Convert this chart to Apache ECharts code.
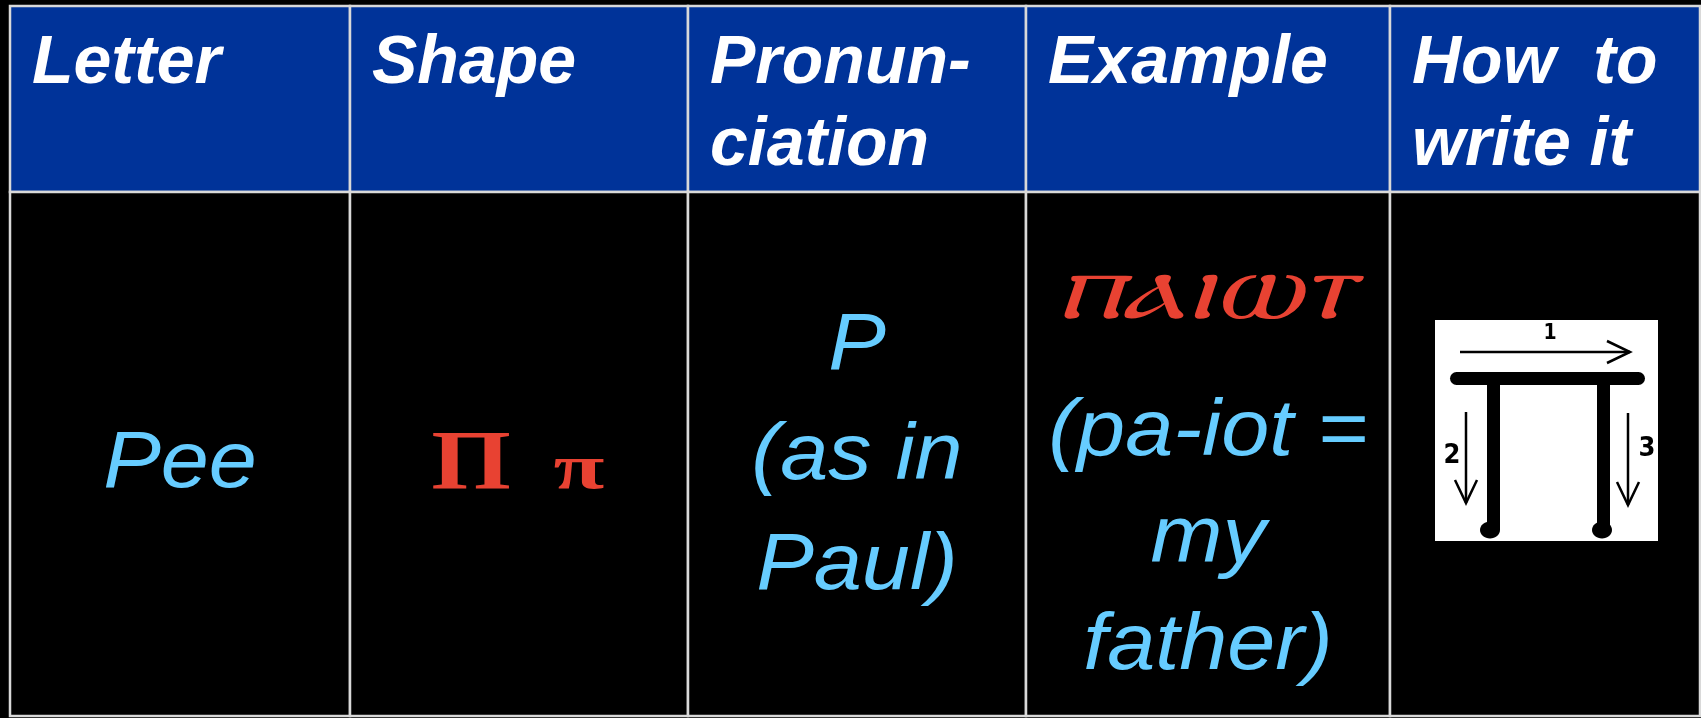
<!DOCTYPE html>
<html><head><meta charset="utf-8">
<script src="https://cdn.jsdelivr.net/npm/echarts@6/dist/echarts.min.js"></script>
<style>html,body{margin:0;padding:0;background:#000;}#c{width:1701px;height:718px;}</style>
</head><body><div id="c"></div>
<script>
// ---- table content ----
const headers = ['Letter', 'Shape', 'Pronun-\nciation', 'Example', 'How  to\nwrite it'];
const letterName = ['Pee'];
const shapeGlyphs = ['Π', 'π'];
const pronunciation = ['P', '(as in', 'Paul)'];
const exampleWord = ['ⲡⲁⲓⲱⲧ'];
const exampleGloss = ['(pa-iot =', 'my', 'father)'];
const strokeLabels = ['1', '2', '3'];

// ---- layout (table units) ----
const colEdges = [0, 340, 678, 1016, 1380, 1690];
const rowEdges = [0, 186, 710];

const cells = [];
for (let r = 0; r < 2; r++) for (let c = 0; c < 5; c++)
  cells.push([colEdges[c], colEdges[c + 1], rowEdges[r], rowEdges[r + 1], c, r]);

const BLUE = '#003399', CYAN = '#66ccff', RED = '#e84232', LINE = '#d9d9d9';
const HFONT = 'italic bold 68px "Liberation Sans", Arial, sans-serif';
const BFONT = 'italic 80px "Liberation Sans", Arial, sans-serif';

function txt(text, x, y, font, fill, align, sx, sy) {
  return { type: 'text', x: x, y: y, scaleX: sx || 1, scaleY: sy || 1,
    style: { text: text, font: font, fill: fill, align: align || 'center', verticalAlign: 'middle' } };
}

function renderItem(params, api) {
  const c = api.value(4), r = api.value(5);
  const p0 = api.coord([api.value(0), api.value(2)]);
  const p1 = api.coord([api.value(1), api.value(3)]);
  const x = p0[0], y = p0[1], w = p1[0] - p0[0], h = p1[1] - p0[1];
  const ch = [{ type: 'rect', shape: { x: x, y: y, width: w, height: h },
    style: { fill: r === 0 ? BLUE : '#000', stroke: LINE, lineWidth: 2.5 } }];
  if (r === 0) {
    const lines = headers[c].split('\n');
    lines.forEach((t, i) => ch.push(txt(t, x + 22, y + 58 + i * 82, HFONT, '#fff', 'left')));
  } else {
    const cx = x + w / 2;
    const dy = y - 192;
    if (c === 0) {
      ch.push(txt(letterName[0], cx, 465 + dy, BFONT, CYAN, 'center', 1.08));
    } else if (c === 1) {
      ch.push(txt(shapeGlyphs[0], cx - 48, 467 + dy, 'bold 84px "Liberation Serif", serif', RED, 'center', 1.22));
      ch.push(txt(shapeGlyphs[1], cx + 60, 471 + dy, 'bold 64px "Liberation Serif", serif', RED, 'center', 1.45));
    } else if (c === 2) {
      pronunciation.forEach((t, i) => ch.push(txt(t, cx, 347 + i * 110 + dy, BFONT, CYAN, 'center', 1.08)));
    } else if (c === 3) {
      ch.push(txt(exampleWord[0], cx - 4, 294 + dy, 'italic 94px "DejaVu Serif", "DejaVu Sans", serif', RED, 'center', 1.35));
      exampleGloss.forEach((t, i) => ch.push(txt(t, cx, 433 + i * 107 + dy, BFONT, CYAN, 'center', 1.08)));
    } else if (c === 4) {
      const bx = x + 45, by = y + 128;
      const S = { stroke: '#000', lineWidth: 2.5, fill: null };
      const LF = 'bold 21px "Liberation Sans Narrow", "DejaVu Sans Condensed", sans-serif';
      const LF2 = 'bold 27px "Liberation Sans Narrow", "DejaVu Sans Condensed", sans-serif';
      ch.push({ type: 'rect', shape: { x: bx, y: by, width: 223, height: 221 }, style: { fill: '#fff' } });
      // stroke 1 arrow
      ch.push({ type: 'line', shape: { x1: bx + 25, y1: by + 32, x2: bx + 195, y2: by + 32 }, style: S });
      ch.push({ type: 'polyline', shape: { points: [[bx + 172, by + 21], [bx + 195, by + 32], [bx + 172, by + 43]] }, style: S });
      // bar and legs
      ch.push({ type: 'rect', shape: { x: bx + 15, y: by + 52, width: 195, height: 13, r: 6.5 }, style: { fill: '#000' } });
      ch.push({ type: 'rect', shape: { x: bx + 52, y: by + 60, width: 13, height: 150 }, style: { fill: '#000' } });
      ch.push({ type: 'rect', shape: { x: bx + 162, y: by + 60, width: 13, height: 150 }, style: { fill: '#000' } });
      ch.push({ type: 'ellipse', shape: { cx: bx + 55, cy: by + 210, rx: 10, ry: 8.5 }, style: { fill: '#000' } });
      ch.push({ type: 'ellipse', shape: { cx: bx + 167, cy: by + 210, rx: 10, ry: 8.5 }, style: { fill: '#000' } });
      // stroke 2 & 3 arrows
      ch.push({ type: 'line', shape: { x1: bx + 31, y1: by + 92, x2: bx + 31, y2: by + 183 }, style: S });
      ch.push({ type: 'polyline', shape: { points: [[bx + 20, by + 160], [bx + 31, by + 183], [bx + 42, by + 160]] }, style: S });
      ch.push({ type: 'line', shape: { x1: bx + 193, y1: by + 93, x2: bx + 193, y2: by + 185 }, style: S });
      ch.push({ type: 'polyline', shape: { points: [[bx + 182, by + 162], [bx + 193, by + 185], [bx + 204, by + 162]] }, style: S });
      ch.push(txt(strokeLabels[0], bx + 115, by + 14, LF, '#000'));
      ch.push(txt(strokeLabels[1], bx + 17, by + 136, LF2, '#000'));
      ch.push(txt(strokeLabels[2], bx + 212, by + 129, LF2, '#000'));
    }
  }
  return { type: 'group', children: ch };
}

const chart = echarts.init(document.getElementById('c'), null, { renderer: 'canvas' });
chart.setOption({
  backgroundColor: '#000',
  animation: false,
  grid: { left: 10, top: 6, width: 1690, height: 710 },
  xAxis: { type: 'value', min: 0, max: 1690, show: false },
  yAxis: { type: 'value', min: 0, max: 710, inverse: true, show: false },
  series: [{ type: 'custom', renderItem: renderItem, data: cells, clip: false,
    encode: { x: [0, 1], y: [2, 3] } }]
});
</script>
</body></html>
